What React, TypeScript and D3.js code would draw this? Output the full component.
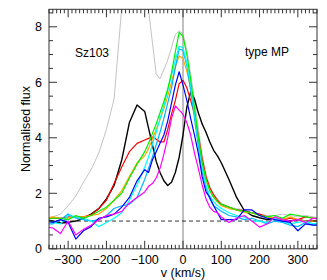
import React, { useEffect, useRef } from 'react';
import * as d3 from 'd3';

// velocity grid (km/s): 20 km/s in the wings, 10 km/s in the core
const velocity = [
  -360, -340, -320, -300, -280, -260, -240, -220, -200, -180, -160, -140, -120, -100,
  -90, -80, -70, -60, -50, -40, -30, -20, -10, 0, 10, 20, 30, 40, 50, 60, 70, 80, 90,
  100, 120, 140, 160, 180, 200, 220, 240, 260, 280, 300, 320, 340, 360,
];

const greyFlux = [
  1.1, 1.15, 1.25, 1.55, 1.9, 2.4, 2.85, 3.45, 4.3, 5.4, 8.7, 11, 12, 11,
  8.6, 7.45, 6.3, 6.12, 6.45, 6.8, 7.25, 7.72, 7.85, 7.75, 7.15, 6.3, 5.35, 4.35, 3.4, 2.7, 2.25, 1.95, 1.8,
  1.65, 1.5, 1.45, 1.4, 1.3, 1.25, 1.2, 1.2, 1.25, 1.2, 1.15, 1.2, 1.15, 1.1,
];
const blackFlux = [
  1.05, 1.0, 0.93, 0.95, 1.0, 1.1, 1.25, 1.45, 1.8, 2.28, 3.2, 4.55, 5.18, 4.95,
  4.35, 3.75, 3.15, 2.75, 2.45, 2.28, 2.4, 2.75, 3.3, 4.1, 5.1, 5.65, 5.4, 4.9, 4.5, 4.2, 3.85, 3.55, 3.35,
  3.1, 2.5, 1.85, 1.38, 1.2, 1.12, 1.05, 1.1, 1.05, 1.0, 1.05, 1.0, 1.0, 1.0,
];
const redFlux = [
  1.1, 1.1, 1.1, 1.15, 1.15, 1.15, 1.22, 1.45, 1.75, 2.35, 2.95, 3.5, 3.8, 3.92,
  3.98, 4.03, 3.95, 3.85, 3.85, 4.3, 4.85, 5.35, 5.95, 6.07, 5.8, 5.35, 4.85, 4.1, 3.25, 2.6, 2.2, 1.95, 1.75,
  1.6, 1.5, 1.4, 1.38, 1.3, 1.25, 1.15, 1.1, 1.05, 1.1, 1.05, 1.15, 1.1, 1.1,
];
const orangeFlux = [
  1.1, 1.15, 1.1, 1.1, 1.15, 1.15, 1.2, 1.25, 1.45, 1.75, 2.1, 2.6, 3.1, 3.35,
  3.6, 3.95, 4.3, 4.65, 5.05, 5.5, 6.0, 6.55, 6.95, 6.85, 6.4, 5.8, 5.0, 4.0, 3.1, 2.5, 2.1, 1.85, 1.7,
  1.55, 1.45, 1.4, 1.3, 1.3, 1.2, 1.15, 1.1, 1.05, 1.15, 1.05, 1.0, 1.0, 1.0,
];
const skyFlux = [
  0.9, 0.9, 1.05, 1.25, 1.1, 1.05, 1.0, 1.05, 1.2, 1.45, 1.55, 1.6, 1.85, 2.5,
  2.9, 3.3, 3.75, 4.2, 4.7, 5.25, 5.8, 6.55, 7.2, 7.15, 6.6, 5.7, 4.7, 3.7, 2.8, 2.2, 1.8, 1.55, 1.45,
  1.35, 1.2, 1.15, 1.05, 1.1, 1.0, 0.9, 1.0, 0.95, 0.85, 0.8, 0.95, 0.85, 0.9,
];
const cyanFlux = [
  1.0, 0.95, 0.9, 1.2, 1.15, 1.1, 1.0, 0.8, 0.95, 1.1, 1.3, 1.75, 2.3, 2.95,
  3.3, 3.75, 4.2, 4.7, 5.15, 5.7, 6.25, 6.8, 7.3, 7.25, 6.7, 5.9, 4.9, 3.9, 2.9, 2.3, 1.9, 1.7, 1.55,
  1.45, 1.3, 1.2, 1.15, 1.0, 1.0, 0.95, 1.1, 1.0, 0.9, 0.95, 1.0, 0.9, 0.95,
];
const greenFlux = [
  1.05, 1.1, 1.1, 1.05, 1.2, 1.1, 1.2, 1.35, 1.5, 1.75, 2.0, 2.55, 3.05, 3.5,
  3.8, 4.15, 4.5, 4.9, 5.3, 5.75, 6.35, 7.1, 7.8, 7.65, 7.0, 6.1, 5.1, 4.0, 3.1, 2.5, 2.1, 1.85, 1.7,
  1.6, 1.5, 1.4, 1.35, 1.3, 1.2, 1.15, 1.2, 1.1, 1.25, 1.2, 1.15, 1.1, 1.1,
];
const blueFlux = [
  1.0, 0.95, 1.05, 0.95, 0.35, 0.65, 0.8, 1.1, 1.15, 1.25, 1.5, 1.85, 2.45, 2.85,
  2.75, 3.2, 3.5, 3.8, 4.1, 4.6, 5.25, 5.9, 6.38, 5.9, 5.35, 4.7, 4.1, 3.45, 2.6, 2.05, 1.85, 1.55, 1.3,
  1.05, 1.05, 1.05, 1.4, 1.4, 1.2, 1.1, 1.05, 1.0, 0.95, 0.65, 0.9, 0.85, 0.85,
];
const magentaFlux = [
  0.8, 0.75, 0.55, 1.0, 0.5, 0.7, 0.85, 1.05, 1.2, 1.25, 1.35, 1.65, 1.85, 2.05,
  2.25, 2.35, 2.55, 2.9, 3.4, 4.0, 4.7, 5.15, 5.0, 4.85, 4.55, 4.1, 3.45, 2.9, 2.3, 1.8, 1.5, 1.35, 1.3,
  1.15, 0.95, 1.1, 1.2, 1.0, 0.78, 0.9, 1.15, 1.05, 1.0, 1.05, 0.95, 1.1, 1.05,
];

const series = [
  { flux: greyFlux, color: '#b4b4b4', width: 0.8 },
  { flux: blackFlux, color: '#000000', width: 1.4 },
  { flux: redFlux, color: '#ff0000', width: 1.2 },
  { flux: orangeFlux, color: '#ffa500', width: 1.2 },
  { flux: skyFlux, color: '#00b4ff', width: 1.2 },
  { flux: cyanFlux, color: '#00ffff', width: 1.2 },
  { flux: greenFlux, color: '#00ee00', width: 1.2 },
  { flux: blueFlux, color: '#0000ff', width: 1.2 },
  { flux: magentaFlux, color: '#ff00ff', width: 1.2 },
];

const xTickLabels = [-300, -200, -100, 0, 100, 200, 300];
const yTickLabels = [0, 2, 4, 6, 8];

export default function App() {
  const ref = useRef<SVGSVGElement>(null);

  useEffect(() => {
    const svg = d3.select(ref.current);
    svg.selectAll('*').remove();

    const left = 49, right = 317, top = 9.3, bottom = 248.8;
    const font = 'Liberation Sans, Arial, Helvetica, sans-serif';

    const x = d3.scaleLinear().domain([-350, 350]).range([left, right]);
    const y = d3.scaleLinear().domain([0, 8.63]).range([bottom, top]);

    svg.append('defs').append('clipPath').attr('id', 'plot-clip')
      .append('rect')
      .attr('x', left).attr('y', top)
      .attr('width', right - left).attr('height', bottom - top);

    // zero velocity line
    svg.append('line')
      .attr('x1', x(0)).attr('x2', x(0))
      .attr('y1', top).attr('y2', bottom)
      .attr('stroke', '#b0b0b0').attr('stroke-width', 1.6);

    const line = d3.line<number>()
      .x((d, i) => x(velocity[i]))
      .y(d => y(d));

    const g = svg.append('g').attr('clip-path', 'url(#plot-clip)');

    series.forEach((s, k) => {
      g.append('path')
        .datum(s.flux)
        .attr('d', line)
        .attr('fill', 'none')
        .attr('stroke', s.color)
        .attr('stroke-width', s.width)
        .attr('stroke-linejoin', 'round');
      if (k === 0) {
        // continuum level
        g.append('line')
          .attr('x1', left).attr('x2', right)
          .attr('y1', y(1)).attr('y2', y(1))
          .attr('stroke', '#000').attr('stroke-width', 0.8)
          .attr('stroke-dasharray', '4,3');
      }
    });

    // frame
    svg.append('rect')
      .attr('x', left).attr('y', top)
      .attr('width', right - left).attr('height', bottom - top)
      .attr('fill', 'none').attr('stroke', '#333').attr('stroke-width', 1);

    const ticks = svg.append('g').attr('stroke', '#333').attr('stroke-width', 1);
    d3.range(-350, 351, 10).forEach(v => {
      const len = v % 100 === 0 ? 8 : 4;
      ticks.append('line').attr('x1', x(v)).attr('x2', x(v)).attr('y1', bottom).attr('y2', bottom - len);
      ticks.append('line').attr('x1', x(v)).attr('x2', x(v)).attr('y1', top).attr('y2', top + len);
    });
    d3.range(0, 8.6, 0.5).forEach(f => {
      const len = f % 2 === 0 ? 8 : 4;
      ticks.append('line').attr('x1', left).attr('x2', left + len).attr('y1', y(f)).attr('y2', y(f));
      ticks.append('line').attr('x1', right).attr('x2', right - len).attr('y1', y(f)).attr('y2', y(f));
    });

    svg.selectAll('.xlab')
      .data(xTickLabels)
      .enter().append('text')
      .attr('x', d => x(d))
      .attr('y', bottom + 15)
      .attr('text-anchor', 'middle')
      .style('font-family', font).style('font-size', '12.5px')
      .text(d => (d < 0 ? '\u2212' + Math.abs(d) : String(d)));

    svg.selectAll('.ylab')
      .data(yTickLabels)
      .enter().append('text')
      .attr('x', left - 7)
      .attr('y', d => y(d) + 4.5)
      .attr('text-anchor', 'end')
      .style('font-family', font).style('font-size', '12.5px')
      .text(d => String(d));

    svg.append('text')
      .attr('x', (left + right) / 2).attr('y', 277)
      .attr('text-anchor', 'middle')
      .style('font-family', font).style('font-size', '12.5px')
      .text('v (km/s)');

    svg.append('text')
      .attr('transform', `translate(30,${(top + bottom) / 2}) rotate(-90)`)
      .attr('text-anchor', 'middle')
      .style('font-family', font).style('font-size', '12.5px')
      .text('Normalised flux');

    svg.append('text')
      .attr('x', 75).attr('y', 57)
      .style('font-family', font).style('font-size', '12px')
      .text('Sz103');

    svg.append('text')
      .attr('x', 245).attr('y', 56)
      .style('font-family', font).style('font-size', '12px')
      .text('type MP');
  }, []);

  return (
    <svg
      ref={ref}
      width={327}
      height={280}
      style={{ position: 'absolute', left: 0, top: 0, background: '#fff' }}
    />
  );
}
